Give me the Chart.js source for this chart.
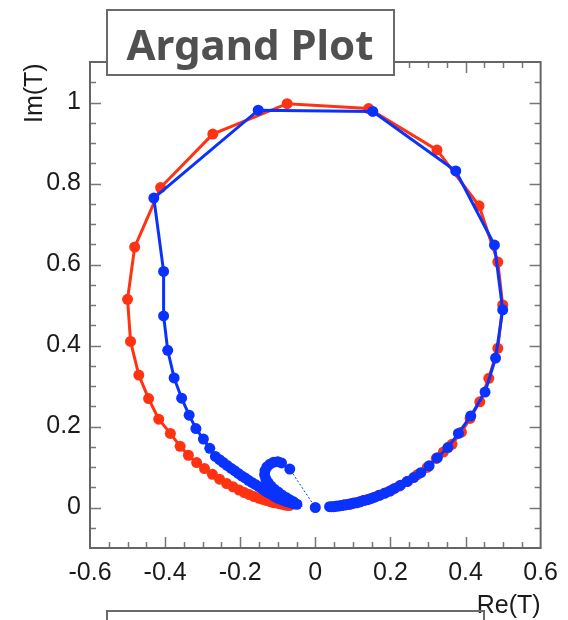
<!DOCTYPE html>
<html lang="en">
<head>
<meta charset="UTF-8">
<title>Argand Plot</title>
<script src="https://cdn.jsdelivr.net/npm/chart.js@4.4.1/dist/chart.umd.min.js"></script>
<style>
  body { margin: 0; background: #fff; }
  #chart { display: block; }
</style>
</head>
<body>
<canvas id="chart" width="568" height="620"></canvas>
<script>
// red curve (Re, Im)
const redRe = [0.070, 0.076, 0.083, 0.092, 0.100, 0.109, 0.119, 0.129, 0.141, 0.155, 0.169, 0.186, 0.203, 0.224, 0.247, 0.272, 0.298,
  0.322, 0.341, 0.364, 0.389, 0.412, 0.438, 0.462, 0.486, 0.499, 0.486, 0.436, 0.324, 0.142, -0.075, -0.273, -0.412, -0.481,
  -0.500, -0.492, -0.470, -0.444, -0.417, -0.386, -0.360, -0.338, -0.316, -0.295, -0.274, -0.255, -0.236, -0.219, -0.203,
  -0.189, -0.176, -0.163, -0.151, -0.140, -0.129, -0.119, -0.111, -0.102, -0.094, -0.087, -0.080, -0.073, -0.068];
const redIm = [0.005, 0.006, 0.007, 0.008, 0.010, 0.012, 0.014, 0.017, 0.020, 0.025, 0.030, 0.036, 0.043, 0.053, 0.065, 0.081, 0.099,
  0.121, 0.137, 0.156, 0.186, 0.220, 0.261, 0.319, 0.393, 0.500, 0.606, 0.745, 0.883, 0.985, 0.997, 0.922, 0.790, 0.643,
  0.514, 0.410, 0.327, 0.269, 0.218, 0.183, 0.151, 0.129, 0.111, 0.096, 0.082, 0.070, 0.059, 0.051, 0.043,
  0.037, 0.032, 0.027, 0.023, 0.020, 0.017, 0.014, 0.012, 0.011, 0.009, 0.008, 0.006, 0.005, 0.005];

// blue curve
const blueRe = [0.038, 0.044, 0.049, 0.054, 0.059, 0.064, 0.070, 0.075, 0.082, 0.089, 0.095, 0.102, 0.111, 0.119, 0.128, 0.138,
  0.148, 0.160, 0.171, 0.184, 0.197, 0.211, 0.227, 0.244, 0.262, 0.281, 0.303, 0.325, 0.353, 0.381, 0.414, 0.452, 0.480,
  0.499, 0.477, 0.374, 0.153, -0.152, -0.430, -0.404, -0.404, -0.393, -0.376, -0.356, -0.336, -0.318, -0.298, -0.281, -0.266,
  -0.255, -0.245, -0.235, -0.225, -0.215, -0.205, -0.196, -0.187, -0.178, -0.169, -0.160, -0.151, -0.143, -0.134, -0.126,
  -0.118, -0.110, -0.102, -0.094, -0.086, -0.078, -0.070, -0.062, -0.055, -0.049,
  -0.058, -0.068, -0.078, -0.089, -0.099, -0.109, -0.118, -0.126, -0.132, -0.135, -0.134, -0.129, -0.121, -0.111, -0.100, -0.090,
  -0.068, 0];
const blueIm = [0.002, 0.002, 0.002, 0.003, 0.004, 0.004, 0.005, 0.006, 0.007, 0.008, 0.009, 0.011, 0.012, 0.014, 0.017, 0.019,
  0.022, 0.026, 0.030, 0.035, 0.040, 0.047, 0.055, 0.064, 0.074, 0.086, 0.103, 0.123, 0.148, 0.183, 0.226, 0.285, 0.369,
  0.488, 0.648, 0.831, 0.978, 0.981, 0.764, 0.583, 0.473, 0.388, 0.320, 0.270, 0.228, 0.195, 0.169, 0.146, 0.126,
  0.118, 0.111, 0.104, 0.097, 0.091, 0.084, 0.078, 0.073, 0.067, 0.062, 0.057, 0.052, 0.047, 0.041, 0.037,
  0.033, 0.028, 0.024, 0.021, 0.018, 0.015, 0.013, 0.011, 0.009, 0.008,
  0.014, 0.019, 0.025, 0.031, 0.038, 0.045, 0.053, 0.062, 0.071, 0.081, 0.091, 0.100, 0.107, 0.112, 0.113, 0.110,
  0.095, 0];

const xTicks = [-0.6, -0.4, -0.2, 0, 0.2, 0.4, 0.6];
const yTicks = [0, 0.2, 0.4, 0.6, 0.8, 1];

const RED = 'rgb(255,51,17)';
const BLUE = 'rgb(10,50,255)';

const toPoints = (xs, ys) => xs.map((x, i) => ({ x: x, y: ys[i] }));
const fmt = v => String(Math.round(v * 10) / 10);

// frame with inward ticks, axis titles and the boxed title
const framePlugin = {
  id: 'frame',
  afterDraw(chart) {
    const ctx = chart.ctx;
    const a = chart.chartArea;
    const xs = chart.scales.x, ys = chart.scales.y;
    ctx.save();
    ctx.strokeStyle = '#777';
    ctx.lineWidth = 1.5;
    ctx.beginPath();
    for (let i = -11; i <= 11; i++) {
      const px = Math.round(xs.getPixelForValue(i * 0.05)) + 0.5;
      const len = i % 4 === 0 ? 11 : 6;
      ctx.moveTo(px, a.bottom); ctx.lineTo(px, a.bottom - len);
      ctx.moveTo(px, a.top); ctx.lineTo(px, a.top + len);
    }
    for (let i = -1; i <= 21; i++) {
      const py = Math.round(ys.getPixelForValue(i * 0.05)) + 0.5;
      const len = i % 4 === 0 ? 11 : 6;
      ctx.moveTo(a.left, py); ctx.lineTo(a.left + len, py);
      ctx.moveTo(a.right, py); ctx.lineTo(a.right - len, py);
    }
    ctx.stroke();
    ctx.strokeStyle = '#666';
    ctx.lineWidth = 2;
    ctx.strokeRect(a.left, a.top, a.right - a.left, a.bottom - a.top);

    // axis titles
    ctx.fillStyle = '#1a1a1a';
    ctx.font = '25px "Liberation Sans", Arial, sans-serif';
    ctx.textAlign = 'right';
    ctx.textBaseline = 'alphabetic';
    ctx.fillText('Re(T)', a.right, 613);
    ctx.save();
    ctx.translate(42, 123);
    ctx.rotate(-Math.PI / 2);
    ctx.textAlign = 'left';
    ctx.fillText('Im(T)', 0, 0);
    ctx.restore();

    // title box
    ctx.fillStyle = '#fff';
    ctx.fillRect(107, 10, 287, 65);
    ctx.strokeStyle = '#6a6a6a';
    ctx.lineWidth = 2;
    ctx.strokeRect(107, 10, 287, 65);
    ctx.fillStyle = '#505050';
    ctx.font = 'bold 42px "Noto Sans", "Open Sans", sans-serif';
    ctx.textAlign = 'center';
    ctx.fillText('Argand Plot', 250, 60);

    // lower box (cut by the page edge)
    ctx.strokeStyle = '#6a6a6a';
    ctx.strokeRect(107, 611, 377, 40);
    ctx.restore();
  }
};

const lastSeg = blueRe.length - 3;

new Chart(document.getElementById('chart'), {
  type: 'scatter',
  data: {
    datasets: [
      {
        label: 'red',
        data: toPoints(redRe, redIm),
        showLine: true,
        borderColor: RED,
        backgroundColor: RED,
        borderWidth: 3,
        pointRadius: 5.5,
        pointBorderWidth: 0,
        order: 1
      },
      {
        label: 'blue',
        data: toPoints(blueRe, blueIm),
        showLine: true,
        borderColor: BLUE,
        backgroundColor: BLUE,
        borderWidth: 3,
        pointRadius: 5.5,
        pointBorderWidth: 0,
        order: 0,
        segment: {
          borderWidth: c => c.p0DataIndex >= lastSeg ? 1 : 3,
          borderDash: c => c.p0DataIndex >= lastSeg ? [2, 2] : undefined
        }
      }
    ]
  },
  options: {
    responsive: false,
    animation: false,
    devicePixelRatio: 1,
    layout: { padding: { top: 62, right: 22, left: 0, bottom: 0 } },
    plugins: { legend: { display: false }, tooltip: { enabled: false } },
    scales: {
      x: {
        min: -0.6, max: 0.6,
        grid: { display: false, drawTicks: false },
        border: { display: false },
        afterBuildTicks: s => { s.ticks = xTicks.map(v => ({ value: v })); },
        afterFit: s => { s.height = 72; },
        ticks: {
          padding: 10,
          color: '#1a1a1a',
          font: { family: '"Liberation Sans", Arial, sans-serif', size: 25 },
          maxRotation: 0,
          autoSkip: false,
          callback: fmt
        }
      },
      y: {
        min: -0.1, max: 1.1,
        grid: { display: false, drawTicks: false },
        border: { display: false },
        afterBuildTicks: s => { s.ticks = yTicks.map(v => ({ value: v })); },
        afterFit: s => { s.width = 90; },
        ticks: {
          padding: 9,
          color: '#1a1a1a',
          font: { family: '"Liberation Sans", Arial, sans-serif', size: 25 },
          autoSkip: false,
          callback: fmt
        }
      }
    }
  },
  plugins: [framePlugin]
});
</script>
</body>
</html>
